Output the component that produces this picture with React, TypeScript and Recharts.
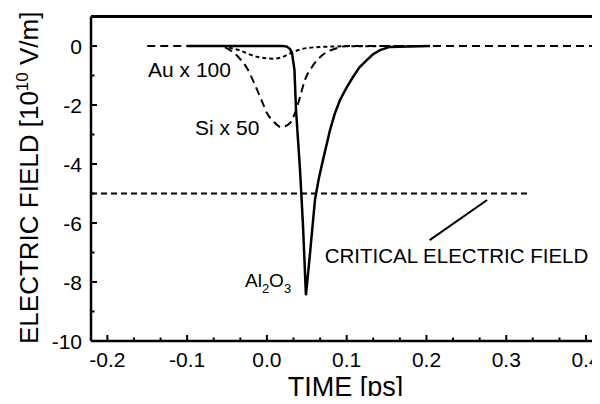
import React from 'react';
import { LineChart, Line, XAxis, YAxis, ReferenceLine, ReferenceDot } from 'recharts';

// Al2O3 (solid)
const alTime = [-0.1, 0, 0.02, 0.025, 0.029, 0.0315, 0.0327, 0.0345, 0.0365, 0.039, 0.0415, 0.0452, 0.0489, 0.0544, 0.0603, 0.065, 0.0703, 0.0791, 0.085, 0.0916, 0.1, 0.1079, 0.116, 0.1255, 0.133, 0.1417, 0.154, 0.2044];
const alField = [0, 0, 0, -0.02, -0.1, -0.25, -0.47, -0.8, -2.17, -3.19, -4.2, -6.07, -8.45, -6.92, -5.2, -4.5, -3.86, -2.85, -2.3, -1.83, -1.4, -1.05, -0.72, -0.47, -0.28, -0.14, -0.03, 0];

// Si x 50 (long dashes)
const siTime = [-0.15, -0.06, -0.0463, -0.035, -0.025, -0.015, -0.005, 0.0, 0.008, 0.018, 0.029, 0.0352, 0.0415, 0.0477, 0.0565, 0.07, 0.0878, 0.1, 0.4175];
const siField = [0, 0, -0.14, -0.4, -0.75, -1.32, -1.95, -2.27, -2.55, -2.75, -2.61, -2.27, -1.73, -1.15, -0.71, -0.3, -0.07, 0, 0];

// Au x 100 (short dashes)
const auTime = [-0.1, -0.055, -0.045, -0.034, -0.025, -0.01, 0.0, 0.008, 0.02, 0.033, 0.05, 0.07, 0.1, 0.2];
const auField = [0, 0, -0.07, -0.15, -0.25, -0.38, -0.42, -0.43, -0.37, -0.2, -0.07, -0.03, -0.01, 0];

// critical electric field
const critTime = [-0.2205, 0.33];
const critField = [-5, -5];

// pointer line for the annotation
const pointerTime = [0.204, 0.276];
const pointerField = [-6.58, -5.22];

// annotation labels
const labelTexts = ['Au x 100', 'Si x 50', 'CRITICAL ELECTRIC FIELD'];
const labelTime = [-0.149, -0.09, 0.0725];
const labelField = [-1.05, -3.02, -7.36];
const labelSizes = [21, 21, 20.5];
const alLabelTime = -0.0275;
const alLabelField = -8.17;

// axes
const xTicks = [-0.2, -0.1667, -0.1333, -0.1, -0.0667, -0.0333, 0, 0.0333, 0.0667, 0.1, 0.1333, 0.1667, 0.2, 0.2333, 0.2667, 0.3, 0.3333, 0.3667, 0.4];
const xTickLabels = ['-0.2', '-0.1', '0.0', '0.1', '0.2', '0.3', '0.4'];
const yTicks = [-10, -9, -8, -7, -6, -5, -4, -3, -2, -1, 0];
const yTickLabels = ['-10', '-8', '-6', '-4', '-2', '0'];
const xDomain = [-0.2205, 0.4175];
const yDomain = [-10, 1];

const toData = (ts: number[], vs: number[]) => ts.map((t, i) => ({ t, v: vs[i] }));
const alData = toData(alTime, alField);
const siData = toData(siTime, siField);
const auData = toData(auTime, auField);
const critData = toData(critTime, critField);
const pointerData = toData(pointerTime, pointerField);

const FONT = '"Liberation Sans", Arial, Helvetica, sans-serif';

const XTick = (props: any) => {
  const { x, y, payload } = props;
  let idx = 0;
  let best = Infinity;
  xTicks.forEach((t, i) => {
    const d = Math.abs(t - payload.value);
    if (d < best) { best = d; idx = i; }
  });
  const major = idx % 3 === 0;
  return (
    <g>
      <line x1={x} x2={x} y1={y} y2={y - (major ? 6 : 3.5)} stroke="#000" strokeWidth={2} />
      {major && (
        <text x={x} y={y + 26} textAnchor="middle" fontSize={21} fontFamily={FONT} fill="#000">
          {xTickLabels[idx / 3]}
        </text>
      )}
    </g>
  );
};

const YTick = (props: any) => {
  const { x, y, payload } = props;
  const v = Math.round(payload.value);
  const major = v % 2 === 0;
  return (
    <g>
      <line x1={x} x2={x + (major ? 6 : 3.5)} y1={y} y2={y} stroke="#000" strokeWidth={2} />
      {major && (
        <text x={x - 9} y={y + 7.5} textAnchor="end" fontSize={21} fontFamily={FONT} fill="#000">
          {yTickLabels[(v + 10) / 2]}
        </text>
      )}
    </g>
  );
};

const XTitle = (props: any) => {
  const vb = props.viewBox || { x: 83, y: 333, width: 509, height: 63 };
  return (
    <text x={vb.x + vb.width / 2} y={vb.y + 55} textAnchor="middle" fontSize={27} fontFamily={FONT} fill="#000">
      TIME [ps]
    </text>
  );
};

const YTitle = (props: any) => {
  const vb = props.viewBox || { x: 0, y: 8.5, width: 83, height: 324.5 };
  const cx = vb.x + 30;
  const cy = vb.y + vb.height / 2 - 1;
  return (
    <text x={cx} y={cy} transform={`rotate(-90 ${cx} ${cy})`} textAnchor="middle" fontSize={26} fontFamily={FONT} fill="#000">
      <tspan>ELECTRIC FIELD [10</tspan>
      <tspan fontSize={17} dy={-10}>10</tspan>
      <tspan dy={10}> V/m]</tspan>
    </text>
  );
};

const makeLabel = (text: string, size: number) => (props: any) => {
  const vb = props.viewBox || { x: 0, y: 0, width: 0, height: 0 };
  const x = vb.x + (vb.width || 0) / 2;
  const y = vb.y + (vb.height || 0) / 2;
  return (
    <text x={x} y={y} fontSize={size} fontFamily={FONT} fill="#000">
      {text}
    </text>
  );
};

const AlLabel = (props: any) => {
  const vb = props.viewBox || { x: 0, y: 0, width: 0, height: 0 };
  const x = vb.x + (vb.width || 0) / 2;
  const y = vb.y + (vb.height || 0) / 2;
  return (
    <text x={x} y={y} fontSize={19} fontFamily={FONT} fill="#000">
      <tspan>Al</tspan>
      <tspan fontSize={13} dy={6}>2</tspan>
      <tspan dy={-6}>O</tspan>
      <tspan fontSize={13} dy={6}>3</tspan>
    </text>
  );
};

export default function App() {
  return (
    <div style={{ width: 592, height: 396, marginBottom: -8 }}>
      <LineChart width={592} height={396} margin={{ top: 8.5, right: 0, bottom: 0, left: 0 }}>
        <XAxis
          type="number"
          dataKey="t"
          domain={xDomain}
          allowDataOverflow
          ticks={xTicks}
          interval={0}
          tickSize={0}
          tickMargin={0}
          tickLine={false}
          tick={<XTick />}
          height={63}
          axisLine={{ stroke: '#000', strokeWidth: 2.5 }}
          label={XTitle}
        />
        <YAxis
          type="number"
          domain={yDomain}
          allowDataOverflow
          ticks={yTicks}
          interval={0}
          tickSize={0}
          tickMargin={0}
          tickLine={false}
          tick={<YTick />}
          width={83}
          axisLine={{ stroke: '#000', strokeWidth: 2.5 }}
          label={YTitle}
        />
        <ReferenceLine y={1} stroke="#000" strokeWidth={3} />
        <Line data={critData} dataKey="v" type="linear" stroke="#000" strokeWidth={2} strokeDasharray="6 4" dot={false} activeDot={false} isAnimationActive={false} />
        <Line data={pointerData} dataKey="v" type="linear" stroke="#000" strokeWidth={2} dot={false} activeDot={false} isAnimationActive={false} />
        <Line data={siData} dataKey="v" type="monotone" stroke="#000" strokeWidth={2} strokeDasharray="8 5" dot={false} activeDot={false} isAnimationActive={false} />
        <Line data={auData} dataKey="v" type="monotone" stroke="#000" strokeWidth={2} strokeDasharray="4 3" dot={false} activeDot={false} isAnimationActive={false} />
        <Line data={alData} dataKey="v" type="linear" stroke="#000" strokeWidth={2.5} dot={false} activeDot={false} isAnimationActive={false} />
        {labelTexts.map((txt, i) => (
          <ReferenceDot key={txt} x={labelTime[i]} y={labelField[i]} r={0} fill="none" stroke="none" label={makeLabel(txt, labelSizes[i])} />
        ))}
        <ReferenceDot x={alLabelTime} y={alLabelField} r={0} fill="none" stroke="none" label={AlLabel} />
      </LineChart>
    </div>
  );
}
